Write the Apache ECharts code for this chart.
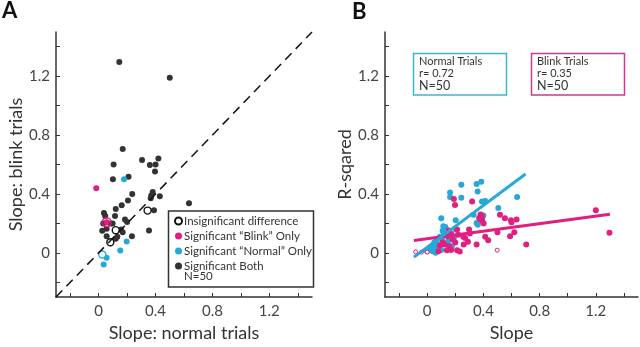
<!DOCTYPE html>
<html>
<head>
<meta charset="utf-8">
<script src="https://cdn.jsdelivr.net/npm/echarts@6/dist/echarts.min.js"></script>
<style>
html, body { margin: 0; padding: 0; background: #fff; }
#chart { width: 640px; height: 347px; }
</style>
</head>
<body>
<div id="chart"></div>
<script>
// ticks every 0.2, labels every 0.4 (both panels)
var tickValues = [-0.2, 0, 0.2, 0.4, 0.6, 0.8, 1.0, 1.2, 1.4];
var labelValues = [0, 0.4, 0.8, 1.2];

// panel A: slope normal (x) vs slope blink (y)
var bothPoints = [
    [0.145, 1.297], [0.50, 1.19], [0.169, 0.706], [0.305, 0.63], [0.105, 0.60],
    [0.36, 0.596], [0.40, 0.60], [0.42, 0.64], [0.396, 0.553], [0.10, 0.50],
    [0.21, 0.517], [0.236, 0.40], [0.38, 0.413], [0.43, 0.384], [0.366, 0.37],
    [0.37, 0.39], [0.162, 0.323], [0.206, 0.355], [0.12, 0.298], [0.037, 0.27],
    [0.046, 0.25], [0.115, 0.25], [0.635, 0.336], [0.032, 0.20], [0.098, 0.20],
    [0.185, 0.226], [0.20, 0.21], [0.025, 0.15], [0.056, 0.163], [0.157, 0.158],
    [0.354, 0.152], [0.056, 0.113], [0.12, 0.095], [0.131, 0.109], [0.234, 0.113],
    [0.389, 0.29], [0.084, 0.20], [0.169, 0.14]
];
var blinkOnlyPoints = [[-0.017, 0.438], [0.056, 0.208]];
var normalOnlyPoints = [[0.178, 0.50], [0.197, 0.077], [0.152, 0.016], [0.056, -0.033], [0.035, -0.08], [0.077, 0.068]];
var insignificantPoints = [[0.344, 0.287], [0.12, 0.154], [0.082, 0.072]];
var insigNormalRing = [[0.025, -0.011]];
var insigBlinkRing = [[0.056, 0.208]];
var unityLine = [[-0.3, -0.3], [1.5, 1.5]];

// panel B: slope (x) vs R-squared (y)
var normalB = [
    [0.163, 0.41], [0.163, 0.38], [0.243, 0.463], [0.243, 0.375], [0.352, 0.467],
    [0.385, 0.483], [0.359, 0.417], [0.39, 0.348], [0.413, 0.352], [0.506, 0.305],
    [0.64, 0.38], [0.33, 0.258], [0.40, 0.253], [0.10, 0.235], [0.203, 0.221],
    [0.115, 0.18], [0.13, 0.175], [0.392, 0.24], [0.352, 0.203], [0.203, 0.158],
    [0.067, 0.09], [0.032, 0.045], [0.055, 0.028], [0.176, 0.045], [0.139, 0.064],
    [0.105, 0.09], [0.12, 0.13], [0.09, 0.11], [0.07, 0.06], [0.05, 0.07],
    [0.04, 0.01], [0.02, 0.02], [0.08, 0.03], [0.15, 0.08], [0.36, 0.19],
    [0.11, 0.15], [0.19, 0.10], [0.06, 0.0], [0.10, 0.02], [0.0, 0.01]
];
var blinkB = [
    [0.19, 0.366], [0.198, 0.325], [0.32, 0.348], [0.39, 0.248], [0.37, 0.237],
    [0.392, 0.217], [0.402, 0.199], [0.518, 0.258], [0.553, 0.235], [0.596, 0.221],
    [0.60, 0.208], [0.636, 0.226], [1.20, 0.289], [1.297, 0.136], [0.705, 0.057],
    [0.59, 0.113], [0.62, 0.14], [0.50, 0.14], [0.298, 0.158], [0.413, 0.109],
    [0.434, 0.086], [0.352, 0.057], [0.304, 0.131], [0.257, 0.109], [0.22, 0.122],
    [0.181, 0.09], [0.145, 0.113], [0.122, 0.057], [0.157, 0.045], [0.213, 0.018],
    [0.232, 0.009], [0.14, 0.018], [0.08, 0.011], [0.26, 0.057], [0.29, 0.075],
    [0.213, 0.158], [0.153, 0.152], [0.38, 0.26], [0.375, 0.23], [0.17, 0.13],
    [0.20, 0.07], [0.11, 0.07], [0.27, 0.10], [0.09, 0.05], [0.17, 0.02]
];
var blinkOpenB = [[-0.082, 0.007], [0.498, 0.018], [-0.04, 0.005], [0.0, 0.005]];
var normalFit = [[-0.094, -0.029], [0.70, 0.535]];
var blinkFit = [[-0.094, 0.084], [1.30, 0.262]];

var CYAN = '#27a9d8';
var MAGENTA = '#e01f80';
var DARK = '#333333';
var FONT = 'Lato';

var chart = echarts.init(document.getElementById('chart'));

function fmt(v) {
    return v === 0 ? '0' : v.toFixed(1);
}

function xAxisFor(idx, name) {
    return {
        gridIndex: idx,
        type: 'value',
        min: -0.3,
        max: 1.5,
        name: name,
        nameLocation: 'middle',
        nameGap: 27,
        nameTextStyle: { fontFamily: FONT, fontSize: 18, color: DARK },
        axisLine: { show: true, onZero: false, lineStyle: { color: DARK, width: 1.5 } },
        axisTick: { show: true, inside: true, length: 4, customValues: tickValues, lineStyle: { color: DARK } },
        axisLabel: { customValues: labelValues, formatter: fmt, fontFamily: FONT, fontSize: 15, color: '#444', margin: 7 },
        splitLine: { show: false }
    };
}

function yAxisFor(idx, name, gap) {
    return {
        gridIndex: idx,
        type: 'value',
        min: -0.3,
        max: 1.5,
        name: name,
        nameLocation: 'middle',
        nameGap: gap,
        nameTextStyle: { fontFamily: FONT, fontSize: 18, color: DARK },
        axisLine: { show: true, onZero: false, lineStyle: { color: DARK, width: 1.5 } },
        axisTick: { show: true, inside: true, length: 4, customValues: tickValues, lineStyle: { color: DARK } },
        axisLabel: { customValues: labelValues, formatter: fmt, fontFamily: FONT, fontSize: 15, color: '#444', margin: 6 },
        splitLine: { show: false }
    };
}

function dots(name, data, xi, color, size) {
    return {
        name: name,
        type: 'scatter',
        xAxisIndex: xi,
        yAxisIndex: xi,
        data: data,
        symbolSize: size,
        itemStyle: { color: color, opacity: 1 },
        silent: true
    };
}

function rings(name, data, xi, fill, color, size, width) {
    return {
        name: name,
        type: 'scatter',
        xAxisIndex: xi,
        yAxisIndex: xi,
        data: data,
        symbolSize: size,
        itemStyle: { color: fill, borderColor: color, borderWidth: width, opacity: 1 },
        silent: true
    };
}

var option = {
    animation: false,
    backgroundColor: '#fff',
    textStyle: { fontFamily: FONT },
    grid: [
        { left: 56, top: 32, width: 256, height: 266 },
        { left: 385, top: 32, width: 253, height: 265 }
    ],
    xAxis: [xAxisFor(0, 'Slope: normal trials'), xAxisFor(1, 'Slope')],
    yAxis: [yAxisFor(0, 'Slope: blink trials', 29), yAxisFor(1, 'R-sqared', 31)],
    legend: {
        orient: 'vertical',
        left: 174,
        top: 215,
        itemWidth: 7,
        itemHeight: 7,
        itemGap: 3,
        padding: 0,
        textStyle: { fontFamily: FONT, fontSize: 11.5, color: DARK, padding: [0, 0, 0, -3] },
        data: [
            { name: 'Insignificant difference', icon: 'circle' },
            { name: 'Significant “Blink” Only', icon: 'circle' },
            { name: 'Significant “Normal” Only', icon: 'circle' },
            { name: 'Significant Both', icon: 'circle' }
        ],
        selectedMode: false
    },
    graphic: [
        { type: 'text', left: 2, top: 0, style: { text: 'A', font: 'bold 22px ' + FONT, fill: '#111' } },
        { type: 'text', left: 352, top: 1, style: { text: 'B', font: 'bold 22px ' + FONT, fill: '#111' } },
        // legend frame of panel A
        { type: 'rect', shape: { x: 168.5, y: 211, width: 145, height: 76 }, style: { fill: 'none', stroke: DARK, lineWidth: 1.5 }, z: 10 },
        { type: 'text', left: 184, top: 270, style: { text: 'N=50', font: '11.5px ' + FONT, fill: DARK }, z: 10 },
        // boxes of panel B
        { type: 'rect', shape: { x: 413.5, y: 53.5, width: 93, height: 41.5 }, style: { fill: 'none', stroke: '#3bb6d3', lineWidth: 1.5 } },
        { type: 'text', left: 419, top: 56, style: { text: 'Normal Trials\nr= 0.72', font: '11px ' + FONT, fill: DARK, lineHeight: 11.5 } },
        { type: 'text', left: 419, top: 79, style: { text: 'N=50', font: '12.5px ' + FONT, fill: DARK } },
        { type: 'rect', shape: { x: 531.5, y: 53.5, width: 93, height: 41.5 }, style: { fill: 'none', stroke: '#c93b90', lineWidth: 1.5 } },
        { type: 'text', left: 537, top: 56, style: { text: 'Blink Trials\nr= 0.35', font: '11px ' + FONT, fill: DARK, lineHeight: 11.5 } },
        { type: 'text', left: 537, top: 79, style: { text: 'N=50', font: '12.5px ' + FONT, fill: DARK } }
    ],
    series: [
        {
            name: 'unity',
            type: 'line',
            xAxisIndex: 0,
            yAxisIndex: 0,
            data: unityLine,
            symbol: 'none',
            silent: true,
            lineStyle: { color: '#111', width: 1.5, type: [9, 6] }
        },
        dots('Significant Both', bothPoints, 0, DARK, 6),
        dots('Significant “Normal” Only', normalOnlyPoints, 0, CYAN, 6),
        dots('Significant “Blink” Only', blinkOnlyPoints, 0, MAGENTA, 6),
        rings('Insignificant difference', insignificantPoints, 0, '#fff', '#111', 7, 1.4),
        rings('ringN', insigNormalRing, 0, '#fff', CYAN, 7, 1.4),
        rings('ringB', insigBlinkRing, 0, 'rgba(0,0,0,0)', MAGENTA, 9, 1.4),

        dots('normalB', normalB, 1, CYAN, 6),
        dots('blinkB', blinkB, 1, MAGENTA, 6),
        rings('blinkOpenB', blinkOpenB, 1, '#fff', MAGENTA, 4, 1),
        {
            name: 'blinkFit',
            type: 'line',
            xAxisIndex: 1,
            yAxisIndex: 1,
            data: blinkFit,
            symbol: 'none',
            silent: true,
            lineStyle: { color: MAGENTA, width: 3 }
        },
        {
            name: 'normalFit',
            type: 'line',
            xAxisIndex: 1,
            yAxisIndex: 1,
            data: normalFit,
            symbol: 'none',
            silent: true,
            lineStyle: { color: CYAN, width: 3 }
        }
    ]
};

chart.setOption(option);
</script>
</body>
</html>
